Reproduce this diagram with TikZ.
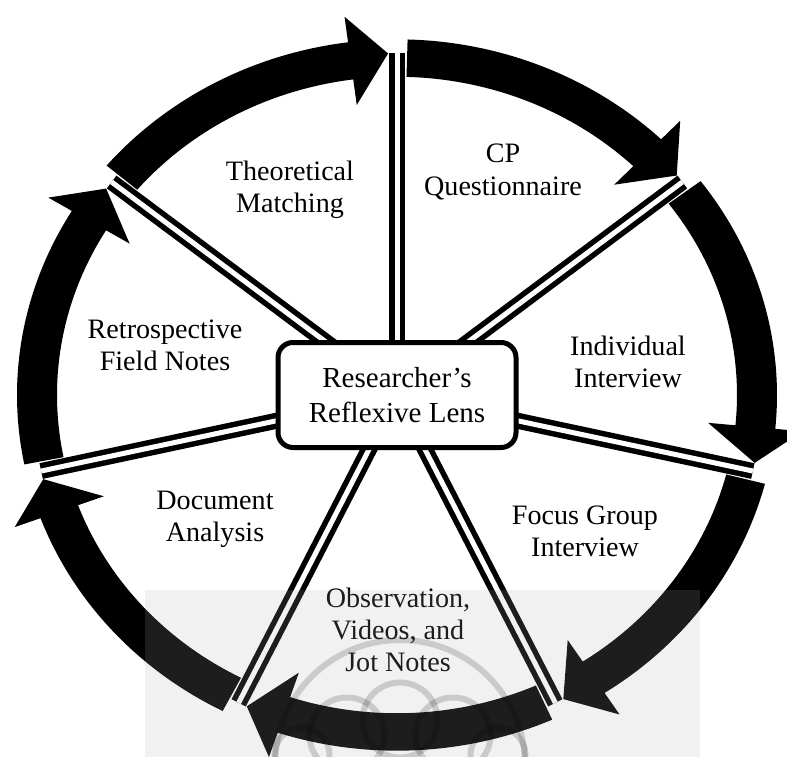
\documentclass[tikz,border=0pt]{standalone}
\usepackage{fontspec}
\setmainfont{Liberation Serif}
% one black ring segment: start angle, back of head, tip
\newcommand{\cyclearrow}[3]{%
  \fill (#1:7.6) arc[start angle=#1, end angle=#2, radius=7.6] -- (#2:8.15) -- (#3:7.3)
    -- (#2:6.25) -- (#2:6.8) arc[start angle=#2, end angle=#1, radius=6.8] -- cycle;}

\begin{document}
\begin{tikzpicture}[
    label/.style={align=center, font=\fontsize{16}{18.4}\selectfont},
    sepline/.style={draw=black, double=white, line width=0.11cm, double distance=0.1cm},
    lensbox/.style={draw, line width=0.1cm, rounded corners=0.3cm, fill=white, align=center,
      minimum width=4.76cm, minimum height=2.1cm, font=\fontsize{16.5}{19.5}\selectfont},
    wmark/.style={draw=black, draw opacity=0.16, line width=0.12cm}
  ]
  \useasboundingbox (-7.94,-7.22) rectangle (7.8,7.9);
  \clip (-7.94,-7.22) rectangle (7.8,7.9);
  \coordinate (c) at (0,0);

  \begin{scope}[yscale=0.936]
    \cyclearrow{88.4}{45.97}{39.97}
    \cyclearrow{36.97}{-5.46}{-11.46}
    \cyclearrow{-14.46}{-56.89}{-62.89}
    \cyclearrow{-65.89}{-108.31}{-114.31}
    \cyclearrow{-117.31}{-159.74}{-165.74}
    \cyclearrow{-168.74}{-211.17}{-217.17}
    \cyclearrow{139.83}{97.4}{91.4}
    \coordinate (s0) at (90:7.3);
    \coordinate (s1) at (38.57:7.3);
    \coordinate (s2) at (-12.86:7.3);
    \coordinate (s3) at (-64.29:7.3);
    \coordinate (s4) at (-115.71:7.3);
    \coordinate (s5) at (-167.14:7.3);
    \coordinate (s6) at (141.43:7.3);
  \end{scope}

  \draw[sepline] (c) -- (s0);
  \draw[sepline] (c) -- (s1);
  \draw[sepline] (c) -- (s2);
  \draw[sepline] (c) -- (s3);
  \draw[sepline] (c) -- (s4);
  \draw[sepline] (c) -- (s5);
  \draw[sepline] (c) -- (s6);

  \node[lensbox] (lens) at (c) {Researcher's\\Reflexive Lens};

  \node[label] (theory) at (-2.14,4.1) {Theoretical\\Matching};
  \node[label] (cpq) at (2.12,4.46) {CP\\Questionnaire};
  \node[label] (indiv) at (4.62,0.66) {Individual\\Interview};
  \node[label] (focus) at (3.76,-2.72) {Focus Group\\Interview};
  \node[label] (observ) at (0.02,-4.7) {Observation,\\Videos, and\\Jot Notes};
  \node[label] (docan) at (-3.64,-2.48) {Document\\Analysis};
  \node[label] (retro) at (-4.64,1.0) {Retrospective\\Field Notes};

  % faint watermark over the bottom
  \begin{scope}
    \clip (-5.04,-3.9) rectangle (6.06,-7.3);
    \fill[black!32, opacity=0.17] (-5.04,-3.9) rectangle (6.06,-7.3);
    \draw[wmark] (0.06,-7.4) circle (2.5);
    \draw[wmark] (-1.0,-6.8) circle (0.75);
    \draw[wmark] (0.06,-6.5) circle (0.75);
    \draw[wmark] (1.12,-6.8) circle (0.75);
    \draw[wmark] (-1.9,-7.2) circle (0.55);
    \draw[wmark] (2.02,-7.2) circle (0.55);
  \end{scope}
\end{tikzpicture}
\end{document}
